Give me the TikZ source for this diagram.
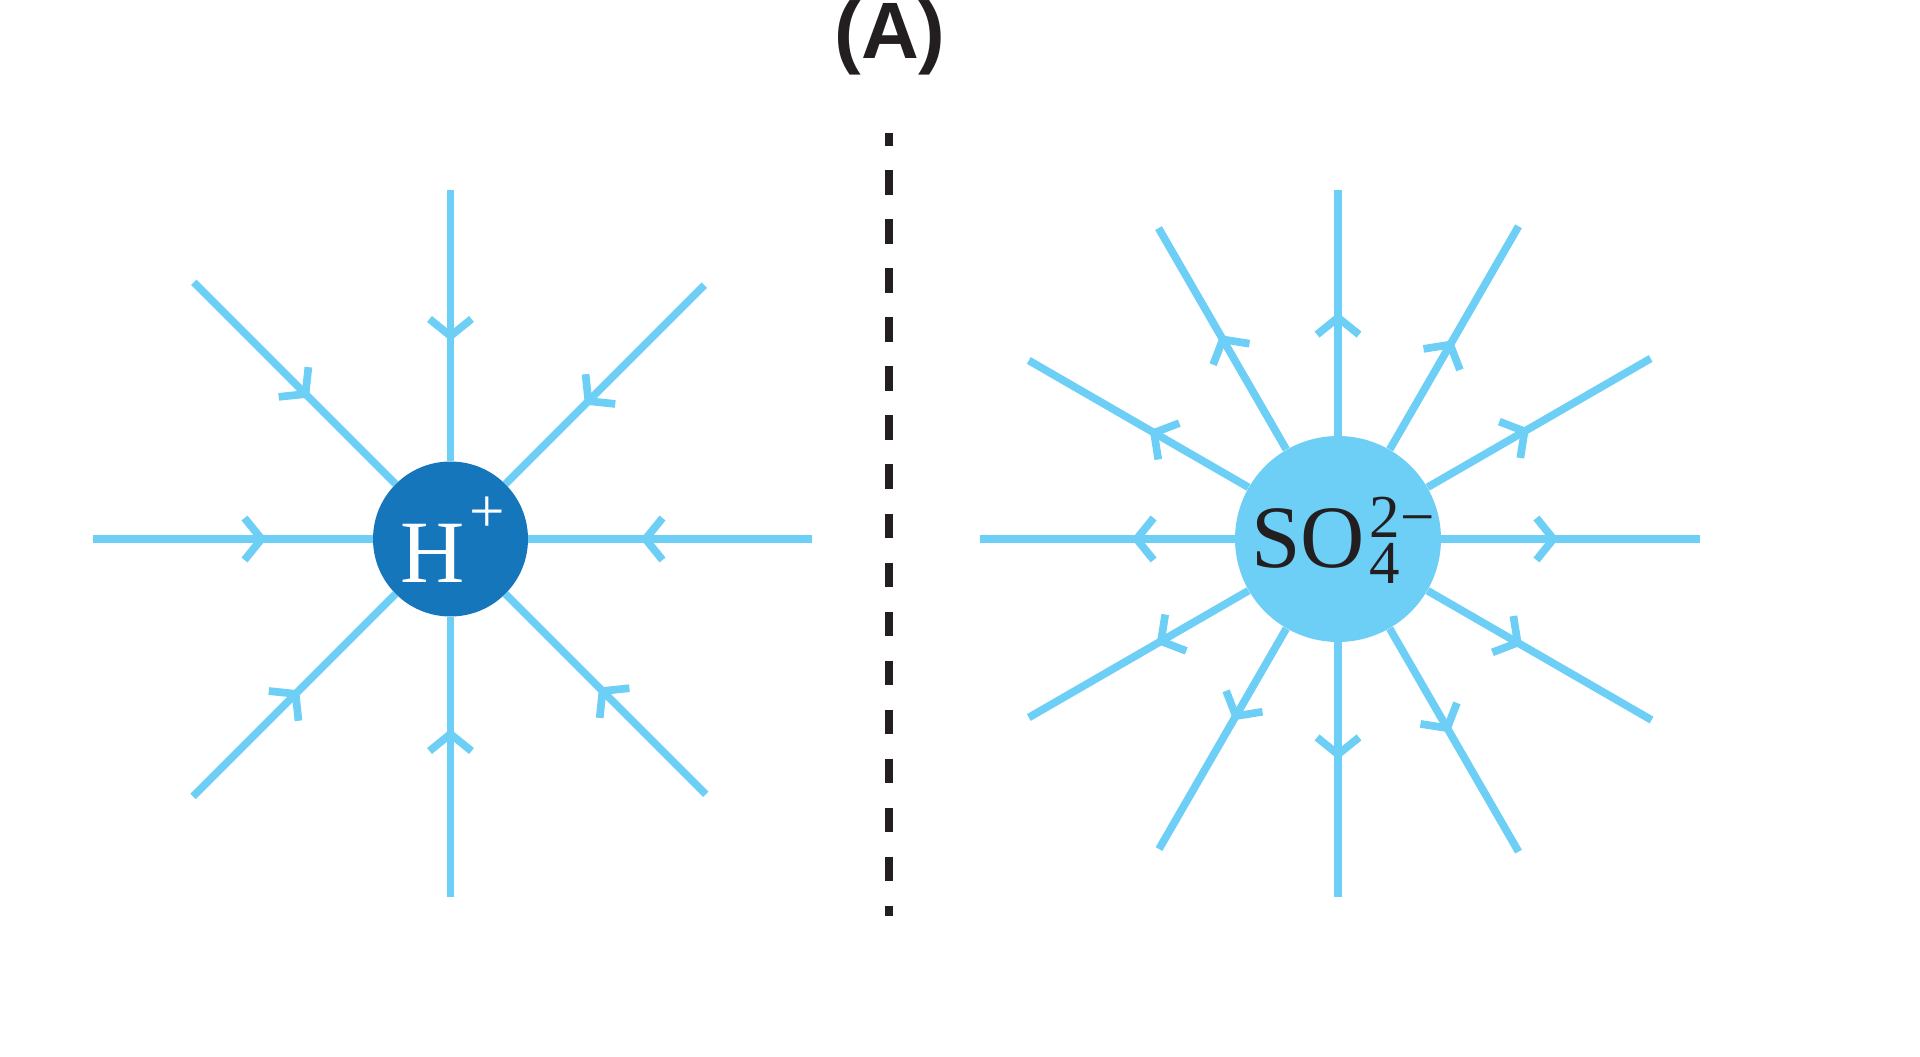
\documentclass[tikz,border=0pt]{standalone}
\usepackage{fontspec}
\usetikzlibrary{calc,decorations.markings}
\newfontfamily\ionfont{Liberation Serif}
\newfontfamily\panelfont{Liberation Sans}
\definecolor{fieldblue}{HTML}{6DCFF6}
\definecolor{protonblue}{HTML}{1576BC}
\definecolor{inkdark}{HTML}{231F20}
\tikzset{
  fieldline/.style={draw=fieldblue,line width=3.85pt},
  barbat/.style={postaction={decorate},decoration={markings,
    mark=at position #1 with {\draw[fieldblue,line width=3.85pt] (-17,21) -- (0,0) -- (-17,-21);}}},
  ion/.style={circle,inner sep=0pt,draw=none},
  ionlabel/.style={inner sep=0pt,anchor=base west,font=\ionfont\fontsize{44.5}{50}\selectfont},
  divider/.style={draw=inkdark,line width=4pt,dash pattern=on 12.25pt off 12.25pt,dash phase=5.75pt},
  panel/.style={inner sep=0pt,anchor=base,text=inkdark,font=\panelfont\bfseries\fontsize{40}{44}\selectfont}
}
\begin{document}
\begin{tikzpicture}[x=0.5pt,y=0.5pt]
\fill[white] (0,0) rectangle (1920,1056);
\useasboundingbox (0,0) rectangle (1920,1056);
\node[panel] (tag) at (890,997) {(A)};
\coordinate (divtop) at (889,923);
\coordinate (divbot) at (889,140);
\draw[divider] (divtop) -- (divbot);
\node[ion,fill=protonblue,minimum size=77.5pt] (H) at (450.5,517) {};
\node[ion,fill=fieldblue,minimum size=103pt] (S) at (1338,517) {};
\foreach \a/\d/\l in {0/195/361,45/195/359,90/203/349,135/205/363,180/189/358,225/219/364,270/195/358,315/215/361}{
  \coordinate (h\a) at ($(H)+(\a:\l)$);
  \pgfmathsetmacro\pos{(\l-\d)*0.5}
  \draw[fieldline,barbat=\pos pt] (h\a) -- (H);
}
\foreach \a/\d/\l in {0/215/362,30/215/361,60/224/361,90/221/349,120/230/359,150/212/357,180/201/358,210/204/357,240/204/358,270/215/358,300/218/361,330/207/362}{
  \coordinate (s\a) at ($(S)+(\a:\l)$);
  \pgfmathsetmacro\pos{(\d-103)*0.5}
  \draw[fieldline,barbat=\pos pt] (S) -- (s\a);
}
\node[ionlabel,text=white] (Hlab) at (400,474) {H\kern2.5pt\raisebox{25pt}{\fontsize{31.5}{34}\selectfont +}};
\node[ionlabel,text=inkdark] (Slab) at (1251,489) {SO\kern2pt\rlap{\raisebox{-8pt}{\fontsize{30.5}{33}\selectfont 4}}\raisebox{15pt}{\fontsize{30.5}{33}\selectfont 2\kern0.5pt−}};
\end{tikzpicture}
\end{document}
